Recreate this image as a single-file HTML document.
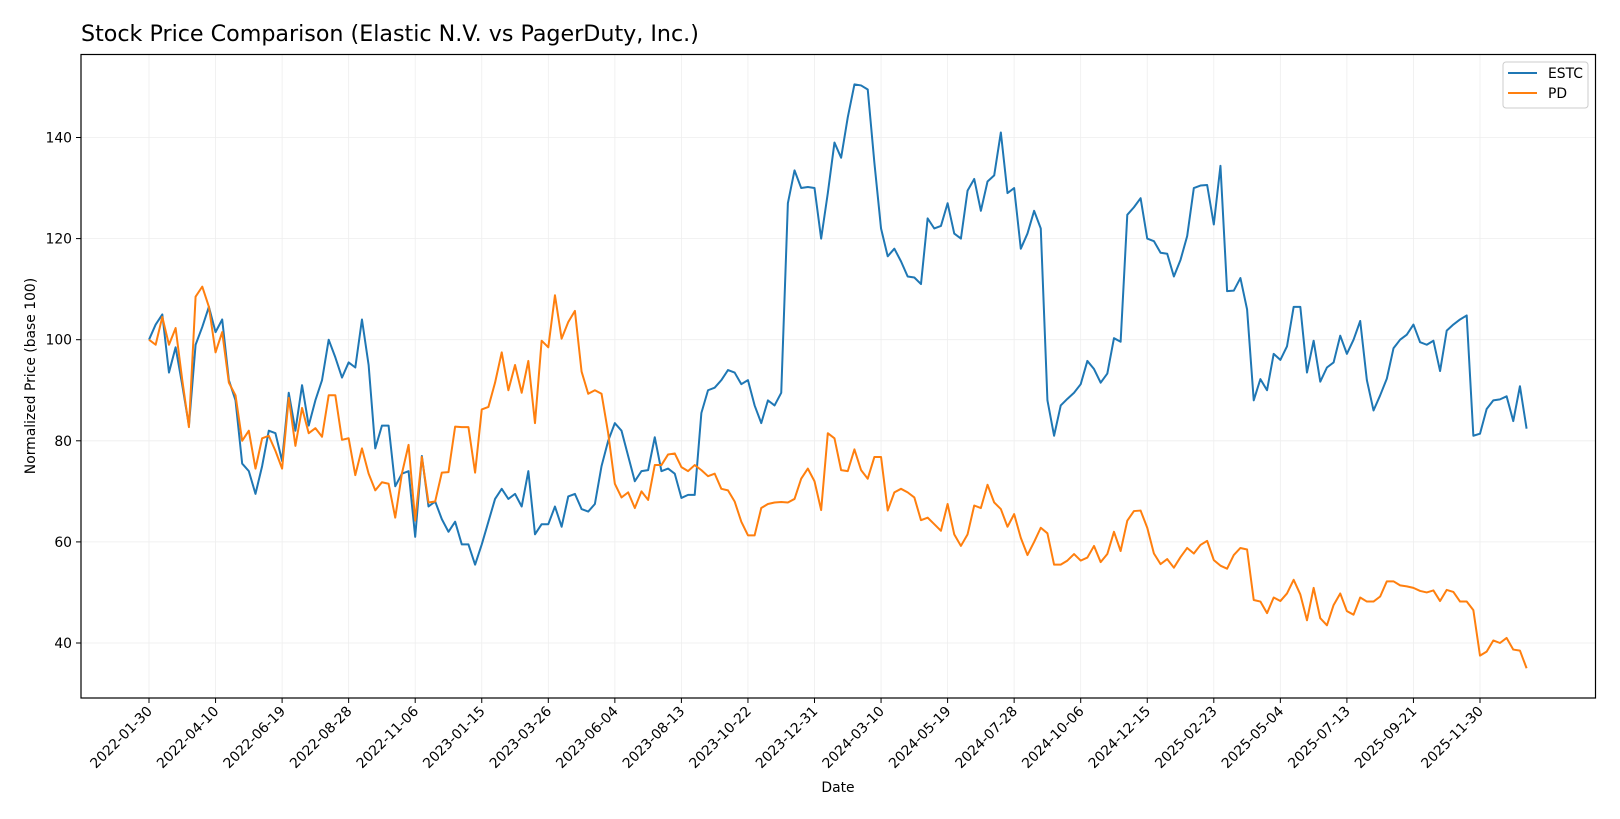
<!DOCTYPE html>
<html><head><meta charset="utf-8"><style>
body{margin:0;background:#fff;}
svg{display:block;font-family:"DejaVu Sans","Liberation Sans",sans-serif;}
</style></head><body>
<svg id="chart" width="1620" height="819" viewBox="0 0 1620 819" xmlns="http://www.w3.org/2000/svg">
<rect width="1620" height="819" fill="#fff"/>
<text x="81" y="41" font-size="22.2" fill="#000">Stock Price Comparison (Elastic N.V. vs PagerDuty, Inc.)</text>
<g id="grid"></g>
<g id="series"></g>
<rect x="81" y="54.5" width="1514.5" height="643.5" fill="none" stroke="#000" stroke-width="1.2"/>
<g id="ticks"></g>
<text transform="translate(35,376) rotate(-90)" text-anchor="middle" font-size="13.9">Normalized Price (base 100)</text>
<text x="838" y="792" text-anchor="middle" font-size="13.9">Date</text>
<g>
<rect x="1503" y="62" width="85" height="46" rx="3" fill="#fff" fill-opacity="0.8" stroke="#ccc"/>
<line x1="1508" y1="73" x2="1537" y2="73" stroke="#1f77b4" stroke-width="2"/>
<text x="1548" y="78" font-size="13.9">ESTC</text>
<line x1="1508" y1="93" x2="1537" y2="93" stroke="#ff7f0e" stroke-width="2"/>
<text x="1548" y="98" font-size="13.9">PD</text>
</g>
</svg>
<script>
const tickLabels=["2022-01-30","2022-04-10","2022-06-19","2022-08-28","2022-11-06","2023-01-15","2023-03-26","2023-06-04","2023-08-13","2023-10-22","2023-12-31","2024-03-10","2024-05-19","2024-07-28","2024-10-06","2024-12-15","2025-02-23","2025-05-04","2025-07-13","2025-09-21","2025-11-30"];
const yTicks=[40,60,80,100,120,140];
const estc=[100,103,105,93.5,98.5,91,83,99,102.5,106.5,101.5,104,92,88,75.5,74,69.5,75,82,81.5,76,89.5,82,91,83,88,92,100,96.5,92.5,95.5,94.5,104,95,78.5,83,83,71,73.5,74,61,77,67,68,64.5,62,64,59.5,59.5,55.5,59.5,64,68.5,70.5,68.5,69.5,67,74,61.5,63.5,63.5,67,63,69,69.5,66.5,66,67.5,75,80,83.5,82,77,72,74,74.2,80.7,74,74.5,73.5,68.7,69.3,69.3,85.5,90,90.5,92,94,93.5,91.2,92,87,83.5,88,87,89.5,127,133.5,130,130.2,130,120,129,139,136,144,150.5,150.3,149.5,135,122,116.5,118,115.5,112.5,112.3,111,124,122,122.5,127,121,120,129.5,131.8,125.5,131.3,132.5,141,129,130,118,121,125.5,122,88,81,87,88.3,89.5,91.2,95.8,94.2,91.5,93.3,100.3,99.6,124.7,126.2,128,120,119.5,117.2,117,112.5,115.8,120.5,130,130.5,130.6,122.8,134.4,109.6,109.7,112.2,106,88,92.2,90,97.2,96,98.7,106.5,106.5,93.5,99.8,91.7,94.5,95.5,100.8,97.2,100,103.7,92,86,89,92.3,98.3,100,101,103,99.5,99,99.8,93.8,101.8,103,104,104.8,81,81.4,86.3,88,88.2,88.8,83.9,90.8,82.4];
const pd=[100,99,104.5,99,102.3,92,82.7,108.5,110.5,106.5,97.5,101.5,91.5,89,80,82,74.5,80.5,81,78,74.5,88.5,79,86.5,81.5,82.5,80.8,89,89,80.2,80.5,73.2,78.5,73.5,70.2,71.8,71.5,64.8,73.5,79.2,64.2,76.8,67.8,68,73.7,73.8,82.8,82.7,82.7,73.7,86.2,86.7,91.5,97.5,90,95,89.5,95.8,83.5,99.8,98.5,108.8,100.2,103.5,105.7,93.7,89.3,90,89.3,81.5,71.5,68.8,69.8,66.7,70,68.3,75.2,75.2,77.3,77.5,74.8,74,75.2,74.2,73,73.5,70.5,70.2,68,64,61.3,61.3,66.7,67.5,67.8,67.9,67.8,68.5,72.5,74.5,72,66.3,81.5,80.5,74.2,74,78.3,74.2,72.5,76.8,76.8,66.2,69.8,70.5,69.8,68.8,64.3,64.8,63.5,62.2,67.5,61.5,59.2,61.5,67.2,66.7,71.3,67.8,66.5,63,65.5,60.8,57.4,60,62.8,61.7,55.5,55.5,56.3,57.6,56.3,56.9,59.2,56,57.6,62,58.2,64.2,66.1,66.2,62.8,57.7,55.6,56.6,54.9,57,58.8,57.7,59.4,60.2,56.4,55.3,54.7,57.4,58.8,58.5,48.5,48.2,45.9,49,48.3,49.8,52.5,49.6,44.5,50.9,44.9,43.5,47.5,49.8,46.3,45.6,49,48.2,48.2,49.2,52.2,52.2,51.4,51.2,50.9,50.3,50,50.4,48.3,50.5,50.1,48.2,48.2,46.5,37.5,38.3,40.5,40,41,38.7,38.5,35];
const weeksPerTick=10;
const NS="http://www.w3.org/2000/svg";
function xScale(i){return 149+i*6.655;}
function yScale(v){return 643-(v-40)*5.055;}
function mk(tag,attrs,parent){const e=document.createElementNS(NS,tag);for(const k in attrs)e.setAttribute(k,attrs[k]);parent.appendChild(e);return e;}
const grid=document.getElementById('grid'),ticks=document.getElementById('ticks'),series=document.getElementById('series');
tickLabels.forEach((lab,k)=>{
  const x=xScale(k*weeksPerTick);
  const g=mk('line',{x1:x,x2:x,y1:54.5,y2:698,stroke:'#eee','stroke-width':0.8},grid);
  
  
  const t=mk('line',{x1:x,x2:x,y1:698,y2:703,stroke:'#000','stroke-width':1},ticks);
  
  
  const tx=mk('text',{transform:`translate(${x+4},${712}) rotate(-45)`,'text-anchor':'end','font-size':13.9},ticks);
  tx.textContent=lab;
  
  
});
yTicks.forEach(v=>{
  const y=yScale(v);
  const g=mk('line',{x1:81,x2:1595.5,y1:y,y2:y,stroke:'#eee','stroke-width':0.8},grid);
  
  
  const t=mk('line',{x1:76,x2:81,y1:y,y2:y,stroke:'#000','stroke-width':1},ticks);
  
  
  const tx=mk('text',{x:72,y:y+5,'text-anchor':'end','font-size':13.9},ticks);
  tx.textContent=v;
  
  
});
function line(data,color,name){
  const p=mk('polyline',{points:data.map((v,i)=>xScale(i).toFixed(2)+','+yScale(v).toFixed(2)).join(' '),fill:'none',stroke:color,'stroke-width':2,'stroke-linejoin':'round'},series);
  
  
}
line(estc,'#1f77b4','estc-line');
line(pd,'#ff7f0e','pd-line');
</script>
</body></html>
